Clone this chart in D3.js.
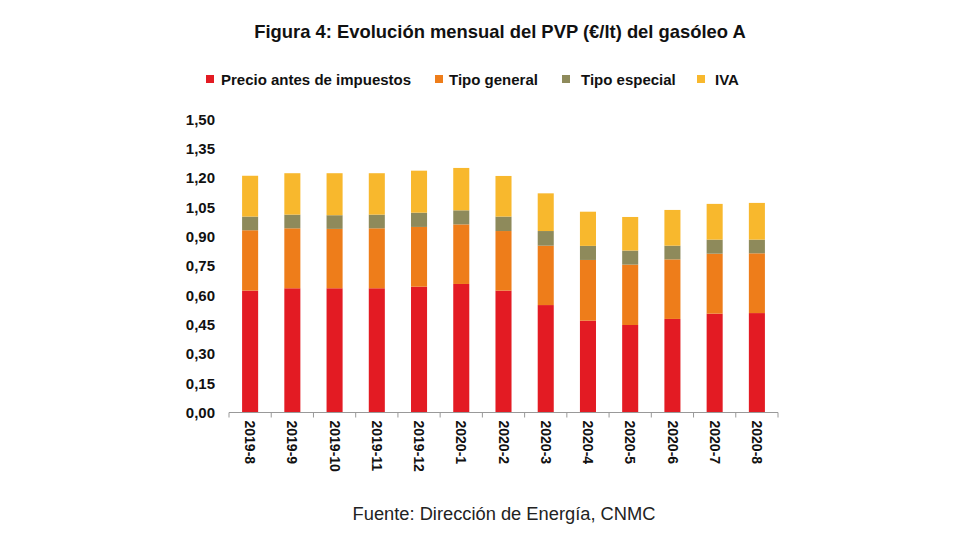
<!DOCTYPE html>
<html><head><meta charset="utf-8">
<script src="https://cdn.jsdelivr.net/npm/d3@7"></script>
<style>body{margin:0;background:#fff}svg{display:block}</style>
</head><body>
<script>
const categories = ["2019-8","2019-9","2019-10","2019-11","2019-12","2020-1","2020-2","2020-3","2020-4","2020-5","2020-6","2020-7","2020-8"];
const seriesNames = ["Precio antes de impuestos","Tipo general","Tipo especial","IVA"];
const precio   = [0.624,0.636,0.636,0.636,0.644,0.658,0.624,0.550,0.470,0.448,0.479,0.506,0.509];
const general  = [0.309,0.307,0.304,0.307,0.306,0.305,0.305,0.304,0.311,0.309,0.305,0.307,0.306];
const especial = [0.070,0.070,0.070,0.070,0.073,0.072,0.074,0.075,0.072,0.072,0.070,0.072,0.070];
const iva      = [0.209,0.212,0.215,0.212,0.215,0.217,0.208,0.193,0.175,0.172,0.183,0.183,0.188];
const yTicks = [0,0.15,0.30,0.45,0.60,0.75,0.90,1.05,1.20,1.35,1.50];
const colors = ["#E31B23","#EE7D1A","#8E8A5B","#F8B82D"];

const W=979,H=551;
const svg=d3.select("body").append("svg").attr("width",W).attr("height",H);
const font="Liberation Sans, Arial, sans-serif";

const x=d3.scaleBand().domain(categories).range([229,778]).paddingInner(0.62).paddingOuter(0.31);
const y=d3.scaleLinear().domain([0,1.5]).range([412.5,119.5]);

const table=categories.map((c,i)=>({cat:c,s0:precio[i],s1:general[i],s2:especial[i],s3:iva[i]}));
const stack=d3.stack().keys(["s0","s1","s2","s3"])(table);

svg.append("text").attr("x",500).attr("y",38).attr("text-anchor","middle")
  .attr("font-family",font).attr("font-weight","bold").attr("font-size",18.4).attr("fill","#111")
  .text("Figura 4: Evolución mensual del PVP (€/lt) del gasóleo A");

// legend
const legSq=[206,435,562,697];
const legTx=[221,449,581,715];
seriesNames.forEach((n,i)=>{
  svg.append("rect").attr("x",legSq[i]).attr("y",75).attr("width",8).attr("height",8).attr("fill",colors[i]);
  svg.append("text").attr("x",legTx[i]).attr("y",85).attr("font-family",font).attr("font-weight","bold")
    .attr("font-size",15).attr("fill","#111").text(n);
});

svg.append("g").selectAll("g").data(stack).join("g").attr("fill",(d,i)=>colors[i])
  .selectAll("rect").data(d=>d).join("rect")
  .attr("x",d=>x(d.data.cat)).attr("width",x.bandwidth())
  .attr("y",d=>y(d[1])).attr("height",d=>y(d[0])-y(d[1]));

// y axis labels
const ya=svg.append("g").attr("transform","translate(215,0)")
  .call(d3.axisLeft(y).tickValues(yTicks).tickSize(0).tickPadding(0).tickFormat(d=>d3.format(".2f")(d).replace(".",",")));
ya.select(".domain").remove();
ya.selectAll("text").attr("font-family",font).attr("font-weight","bold").attr("font-size",15).attr("fill","#111");

// x axis
const xa=svg.append("g").attr("transform","translate(0,412.5)");
xa.append("line").attr("x1",229).attr("x2",778).attr("stroke","#999").attr("stroke-width",1);
xa.selectAll("line.t").data(d3.range(categories.length+1)).join("line").attr("class","t")
  .attr("x1",i=>229+i*(778-229)/categories.length).attr("x2",i=>229+i*(778-229)/categories.length)
  .attr("y1",0).attr("y2",5).attr("stroke","#999");
xa.selectAll("text").data(categories).join("text")
  .attr("transform",d=>`translate(${x(d)+x.bandwidth()/2},8) rotate(90)`)
  .attr("dy","0.35em").attr("font-family",font).attr("font-weight","bold").attr("font-size",14).attr("fill","#111")
  .text(d=>d);

svg.append("text").attr("x",504).attr("y",520).attr("text-anchor","middle")
  .attr("font-family",font).attr("font-size",18.3).attr("fill","#222")
  .text("Fuente: Dirección de Energía, CNMC");
</script>
</body></html>
